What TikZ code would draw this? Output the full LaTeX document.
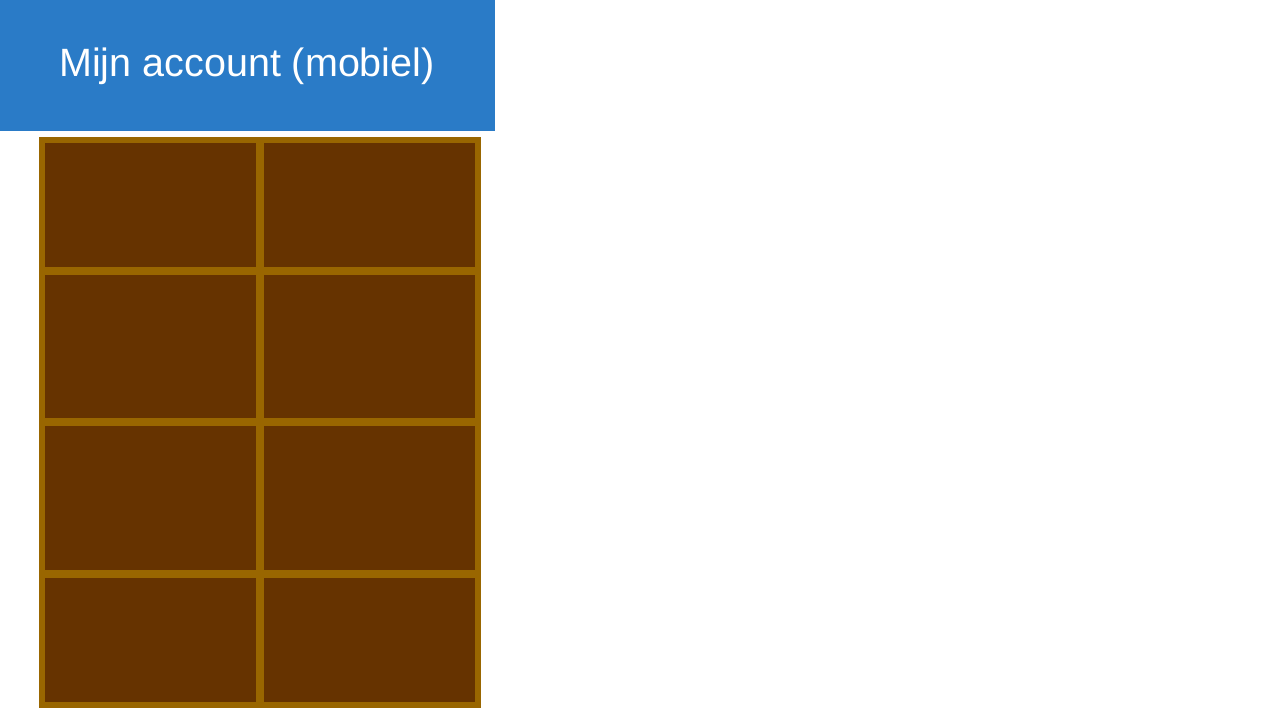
\documentclass[tikz,border=0pt]{standalone}
\usepackage{fontspec}
\setmainfont{Liberation Sans}
\definecolor{hdrblue}{HTML}{2A7BC7}
\definecolor{gold}{HTML}{996600}
\definecolor{cellbrown}{HTML}{663300}
\begin{document}
\begin{tikzpicture}[x=1pt,y=-1pt,
  hdr/.style={fill=hdrblue,draw=none},
  frame/.style={fill=gold,draw=none},
  cell/.style={fill=cellbrown,draw=none}]
\useasboundingbox (0,0) rectangle (1280,720);
\fill[white] (0,0) rectangle (1280,720);
\fill[hdr] (0,0) rectangle (495,131);
\node[text=white,font=\fontsize{39.5}{46}\selectfont] (title) at (247,66) {Mijn account (mobiel)};
\fill[frame] (39,137) rectangle (481,708);
\foreach \r/\ya/\yb in {1/143/267,2/275/418,3/426/570,4/578/702}{
  \fill[cell] (45,\ya) rectangle (256,\yb);
  \fill[cell] (264,\ya) rectangle (475,\yb);
}
\end{tikzpicture}
\end{document}
